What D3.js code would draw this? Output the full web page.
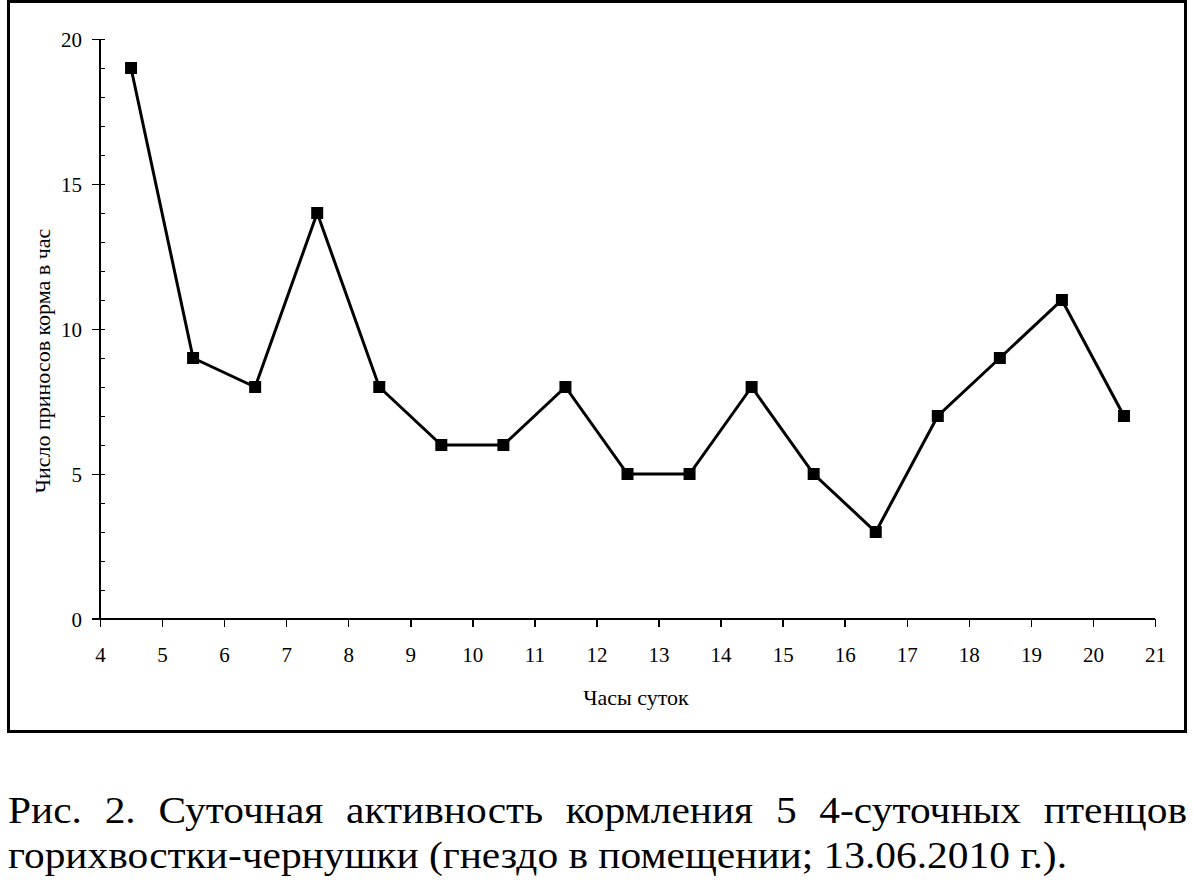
<!DOCTYPE html>
<html>
<head>
<meta charset="utf-8" />
<title>Суточная активность кормления</title>
<script src="https://cdn.jsdelivr.net/npm/d3@7"></script>
<style>
  body { margin: 0; background: #fff; }
  text { font-family: Tinos, Times, serif; fill: #000; }
  .axis path, .axis line { stroke: #000; stroke-width: 1.5; shape-rendering: crispEdges; }
</style>
</head>
<body>
<script>
// данные: часы суток (середина часа) и число приносов корма
var hours  = [4.5, 5.5, 6.5, 7.5, 8.5, 9.5, 10.5, 11.5, 12.5, 13.5, 14.5, 15.5, 16.5, 17.5, 18.5, 19.5, 20.5];
var feeds  = [19, 9, 8, 14, 8, 6, 6, 8, 5, 5, 8, 5, 3, 7, 9, 11, 7];
var xTicks = [4, 5, 6, 7, 8, 9, 10, 11, 12, 13, 14, 15, 16, 17, 18, 19, 20, 21];
var yTicks = [0, 5, 10, 15, 20];
var yMinor = [0, 1, 2, 3, 4, 5, 6, 7, 8, 9, 10, 11, 12, 13, 14, 15, 16, 17, 18, 19, 20];

var xTitle = "Часы суток";
var yTitle = "Число приносов корма в час";
var caption1 = "Рис. 2. Суточная активность кормления 5 4-суточных птенцов";
var caption2 = "горихвостки-чернушки (гнездо в помещении; 13.06.2010 г.).";

var FONT = "Tinos, Times, serif";
var W = 1193, H = 884;
var svg = d3.select("body").append("svg")
    .attr("width", W)
    .attr("height", H);

// рамка
svg.append("rect")
    .attr("x", 8.5).attr("y", 1.5)
    .attr("width", 1177).attr("height", 730)
    .attr("fill", "none")
    .attr("stroke", "#000")
    .attr("stroke-width", 3);

var x = d3.scaleLinear().domain([4, 21]).range([100, 1155]);
var y = d3.scaleLinear().domain([0, 20]).range([619, 39]);

// ось X
var gx = svg.append("g")
    .attr("class", "axis")
    .attr("transform", "translate(0,619)")
    .call(d3.axisBottom(x).tickValues(xTicks).tickSizeInner(8).tickSizeOuter(0).tickFormat(d3.format("d")));
gx.attr("font-family", FONT);
gx.select(".domain").remove();
gx.append("line").attr("x1", 92).attr("x2", 1155).attr("y1", 0).attr("y2", 0)
    .attr("stroke", "#000").attr("stroke-width", 1.5);
gx.selectAll(".tick text")
    .attr("y", 43).attr("dy", 0)
    .style("font-size", "21px")
    .style("font-family", FONT);

// ось Y, мелкие деления внутрь
var gm = svg.append("g")
    .attr("class", "axis")
    .attr("transform", "translate(100,0)")
    .call(d3.axisRight(y).tickValues(yMinor).tickSizeInner(5).tickSizeOuter(0).tickFormat(""));
gm.select(".domain").remove();

var gy = svg.append("g")
    .attr("class", "axis")
    .attr("transform", "translate(100,0)")
    .call(d3.axisLeft(y).tickValues(yTicks).tickSizeInner(8).tickSizeOuter(0).tickFormat(d3.format("d")));
gy.attr("font-family", FONT);
gy.select(".domain").remove();
gy.append("line").attr("x1", 0).attr("x2", 0).attr("y1", y(20)).attr("y2", y(0))
    .attr("stroke", "#000").attr("stroke-width", 1.5);
gy.selectAll(".tick line").attr("x1", 5).attr("x2", -8);
gy.selectAll(".tick text")
    .attr("x", -18).attr("dy", "0.35em")
    .style("font-size", "21px")
    .style("font-family", FONT);

// подписи осей
svg.append("text")
    .attr("x", 636).attr("y", 705)
    .attr("text-anchor", "middle")
    .style("font-size", "22px")
    .text(xTitle);

svg.append("text")
    .attr("transform", "translate(50,361) rotate(-90)")
    .attr("text-anchor", "middle")
    .style("font-size", "22px")
    .text(yTitle);

// линия
var line = d3.line()
    .x(function(d, i) { return x(hours[i]); })
    .y(function(d) { return y(d); });

svg.append("path")
    .datum(feeds)
    .attr("d", line)
    .attr("fill", "none")
    .attr("stroke", "#000")
    .attr("stroke-width", 3);

// маркеры
var ms = 12;
svg.selectAll("rect.pt")
    .data(feeds)
    .enter()
    .append("rect")
    .attr("class", "pt")
    .attr("x", function(d, i) { return x(hours[i]) - ms / 2; })
    .attr("y", function(d) { return y(d) - ms / 2; })
    .attr("width", ms)
    .attr("height", ms)
    .attr("fill", "#000");

// подпись к рисунку
var capSize = 38, left = 8, right = 1187, line2End = 1067;

function measure(s) {
  var t = svg.append("text").style("font-size", capSize + "px").text(s);
  var len = t.node().getComputedTextLength();
  t.remove();
  return len;
}

// вторая строка растянута до ширины оригинала
var k = (line2End - left) / measure(caption2);
svg.append("text")
    .attr("x", left).attr("y", 868)
    .attr("textLength", line2End - left)
    .attr("lengthAdjust", "spacingAndGlyphs")
    .style("font-size", capSize + "px")
    .text(caption2);

// первая строка по ширине
var words = caption1.split(" ");
var widths = words.map(function(w) { return measure(w) * k; });
var gap = (right - left - d3.sum(widths)) / (words.length - 1);
var cx = left;
words.forEach(function(w, i) {
  svg.append("text")
      .attr("x", cx).attr("y", 823)
      .attr("textLength", widths[i])
      .attr("lengthAdjust", "spacingAndGlyphs")
      .style("font-size", capSize + "px")
      .text(w);
  cx += widths[i] + gap;
});
</script>
</body>
</html>
